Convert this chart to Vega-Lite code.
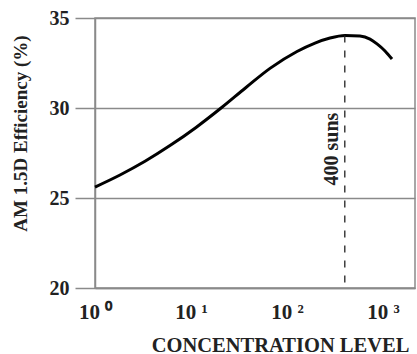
{
  "$schema": "https://vega.github.io/schema/vega-lite/v6.json",
  "width": 320,
  "height": 270,
  "autosize": "none",
  "padding": {"left": 95, "top": 18, "right": 2, "bottom": 66},
  "background": "white",
  "config": {
    "view": {"stroke": "#8a8a8a", "strokeWidth": 1.5},
    "font": "Liberation Serif"
  },
  "datasets": {
    "curve": [
      {"conc": 1, "eff": 25.61},
      {"conc": 1.822, "eff": 26.28},
      {"conc": 3.318, "eff": 27.04},
      {"conc": 6.04, "eff": 27.91},
      {"conc": 11.28, "eff": 28.92},
      {"conc": 21.03, "eff": 30.04},
      {"conc": 37.4, "eff": 31.14},
      {"conc": 66.5, "eff": 32.2},
      {"conc": 127.1, "eff": 33.14},
      {"conc": 195.7, "eff": 33.61},
      {"conc": 280.5, "eff": 33.89},
      {"conc": 402, "eff": 34.03},
      {"conc": 575.6, "eff": 34.0},
      {"conc": 732, "eff": 33.83},
      {"conc": 866, "eff": 33.56},
      {"conc": 1049, "eff": 33.17},
      {"conc": 1241, "eff": 32.72}
    ],
    "marker": [
      {"conc": 400, "top": 34.03, "bottom": 20, "labelY": 27.72, "label": "400 suns"}
    ]
  },
  "layer": [
    {
      "data": {"name": "curve"},
      "mark": {"type": "line", "color": "black", "strokeWidth": 3, "interpolate": "monotone"},
      "encoding": {
        "x": {
          "field": "conc",
          "type": "quantitative",
          "scale": {"type": "log", "domain": [1, 2154], "nice": false},
          "axis": {
            "values": [1, 10, 100, 1000],
            "grid": false,
            "ticks": false,
            "tickSize": 0,
            "domainColor": "#8a8a8a",
            "domainWidth": 1.5,
            "labelExpr": "'10 ' + ['⁰','¹','²','³'][round(log(datum.value)/LN10)]",
            "labelFont": "Liberation Serif",
            "labelFontWeight": "bold",
            "labelFontSize": 21,
            "labelColor": "#222",
            "labelBaseline": "alphabetic",
            "labelPadding": 30,
            "labelDx": -6,
            "labelFlush": false,
            "labelOverlap": false,
            "title": "CONCENTRATION LEVEL",
            "titleFont": "Liberation Serif",
            "titleFontWeight": "bold",
            "titleFontSize": 20.5,
            "titleColor": "#222",
            "titleAlign": "center",
            "titleBaseline": "alphabetic",
            "titleAnchor": null,
            "titleX": 185,
            "titleY": 63
          }
        },
        "y": {
          "field": "eff",
          "type": "quantitative",
          "scale": {"domain": [20, 35], "nice": false, "zero": false},
          "axis": {
            "values": [20, 25, 30, 35],
            "grid": true,
            "gridColor": "#8a8a8a",
            "gridWidth": 1.5,
            "gridOpacity": 1,
            "ticks": true,
            "tickSize": 20,
            "tickColor": "#8a8a8a",
            "tickWidth": 1.5,
            "domainColor": "#8a8a8a",
            "domainWidth": 1.5,
            "labelFont": "Liberation Serif",
            "labelFontWeight": "bold",
            "labelFontSize": 20,
            "labelColor": "#222",
            "labelPadding": 6,
            "labelBaseline": "middle",
            "title": "AM 1.5D Efficiency (%)",
            "titleFont": "Liberation Serif",
            "titleFontWeight": "bold",
            "titleFontSize": 19,
            "titleColor": "#222",
            "titleAngle": -90,
            "titleAlign": "center",
            "titleBaseline": "alphabetic",
            "titleAnchor": null,
            "titleX": -69,
            "titleY": 115
          }
        }
      }
    },
    {
      "data": {"name": "marker"},
      "mark": {"type": "rule", "color": "#222", "strokeWidth": 1.3, "strokeDash": [7, 8]},
      "encoding": {
        "x": {"field": "conc", "type": "quantitative"},
        "y": {"field": "top", "type": "quantitative"},
        "y2": {"field": "bottom"}
      }
    },
    {
      "data": {"name": "marker"},
      "mark": {"type": "text", "angle": 270, "align": "center", "baseline": "alphabetic", "dy": -7, "font": "Liberation Serif", "fontWeight": "bold", "fontSize": 20, "color": "#222"},
      "encoding": {
        "x": {"field": "conc", "type": "quantitative"},
        "y": {"field": "labelY", "type": "quantitative"},
        "text": {"field": "label"}
      }
    }
  ]
}
